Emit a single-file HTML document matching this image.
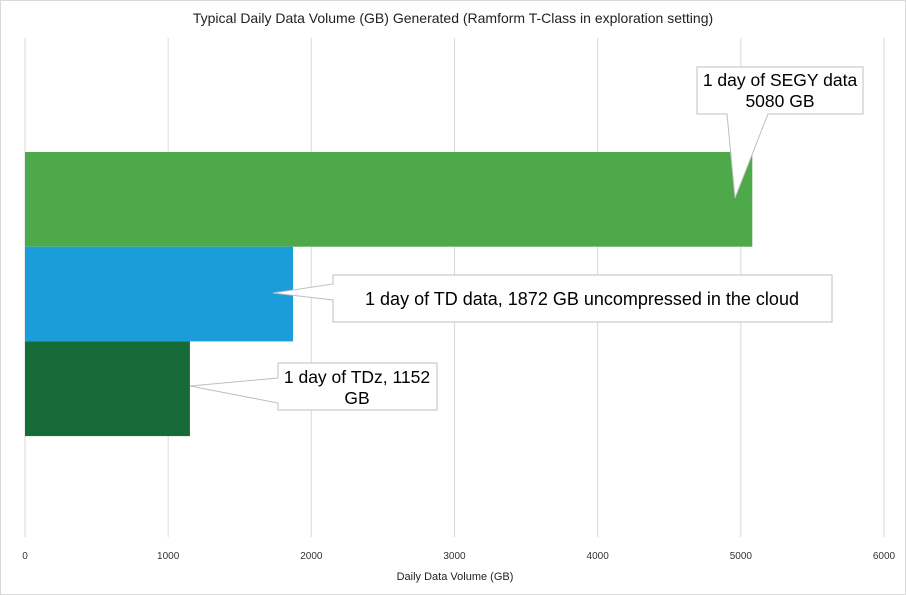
<!DOCTYPE html>
<html><head><meta charset="utf-8"><style>
body{margin:0;background:#fff;}
svg{display:block;font-family:"Liberation Sans",sans-serif;}
</style></head><body>
<svg id="chart" width="906" height="595" viewBox="0 0 906 595">
<rect x="0.5" y="0.5" width="905" height="594" fill="#fff" stroke="#d9d9d9"/>
<text x="453" y="23" text-anchor="middle" font-size="14" fill="#222">Typical Daily Data Volume (GB) Generated (Ramform T-Class in exploration setting)</text>
<g id="grid"></g>
<g id="bars"></g>
<g id="ticks"></g>
<text x="455" y="580" text-anchor="middle" font-size="11" fill="#222">Daily Data Volume (GB)</text>
<g>
<path d="M697,67 H863 V114 H768 L735,198 L727,114 H697 Z" fill="#fff" stroke="#bfbfbf"/>
<text x="780" y="86" text-anchor="middle" font-size="17.5" fill="#000">1 day of SEGY data</text>
<text x="780" y="107" text-anchor="middle" font-size="17.5" fill="#000">5080 GB</text>
</g>
<g>
<path d="M333,275 H832 V322 H333 V300 L273,293 L333,284 Z" fill="#fff" stroke="#bfbfbf"/>
<text x="582" y="305" text-anchor="middle" font-size="18" fill="#000">1 day of TD data, 1872 GB uncompressed in the cloud</text>
</g>
<g>
<path d="M278,363 H437 V410 H278 V403 L190,386 L278,378 Z" fill="#fff" stroke="#bfbfbf"/>
<text x="357" y="383" text-anchor="middle" font-size="17.5" fill="#000">1 day of TDz, 1152</text>
<text x="357" y="404" text-anchor="middle" font-size="17.5" fill="#000">GB</text>
</g>
</svg>
<script>
const categories=["SEGY","TD","TDz"];
const values=[5080,1872,1152];
const colors=["#4ea94a","#1b9dd9","#176b37"];
const tickValues=[0,1000,2000,3000,4000,5000,6000];
const NS="http://www.w3.org/2000/svg";
const x0=25,x1=884,xmax=6000;
function xs(v){return x0+(v/xmax)*(x1-x0);}
const bandTop=152,bandH=94.7;
function ys(i){return bandTop+i*bandH;}
const grid=document.getElementById('grid'),bars=document.getElementById('bars'),ticks=document.getElementById('ticks');
tickValues.forEach(t=>{
 const l=document.createElementNS(NS,'line');
 l.setAttribute('x1',xs(t));l.setAttribute('x2',xs(t));l.setAttribute('y1',38);l.setAttribute('y2',537);
 l.setAttribute('stroke','#d9d9d9');
 
 
 grid.appendChild(l);
 const tx=document.createElementNS(NS,'text');
 tx.setAttribute('x',xs(t));tx.setAttribute('y',559);tx.setAttribute('text-anchor','middle');
 tx.setAttribute('font-size','10');tx.setAttribute('fill','#333');
 tx.textContent=t;
 
 
 ticks.appendChild(tx);
});
values.forEach((v,i)=>{
 const r=document.createElementNS(NS,'rect');
 r.setAttribute('x',xs(0));r.setAttribute('y',ys(i));
 r.setAttribute('width',xs(v)-xs(0));r.setAttribute('height',bandH);
 r.setAttribute('fill',colors[i]);
 
 
 bars.appendChild(r);
});
</script>
</body></html>
